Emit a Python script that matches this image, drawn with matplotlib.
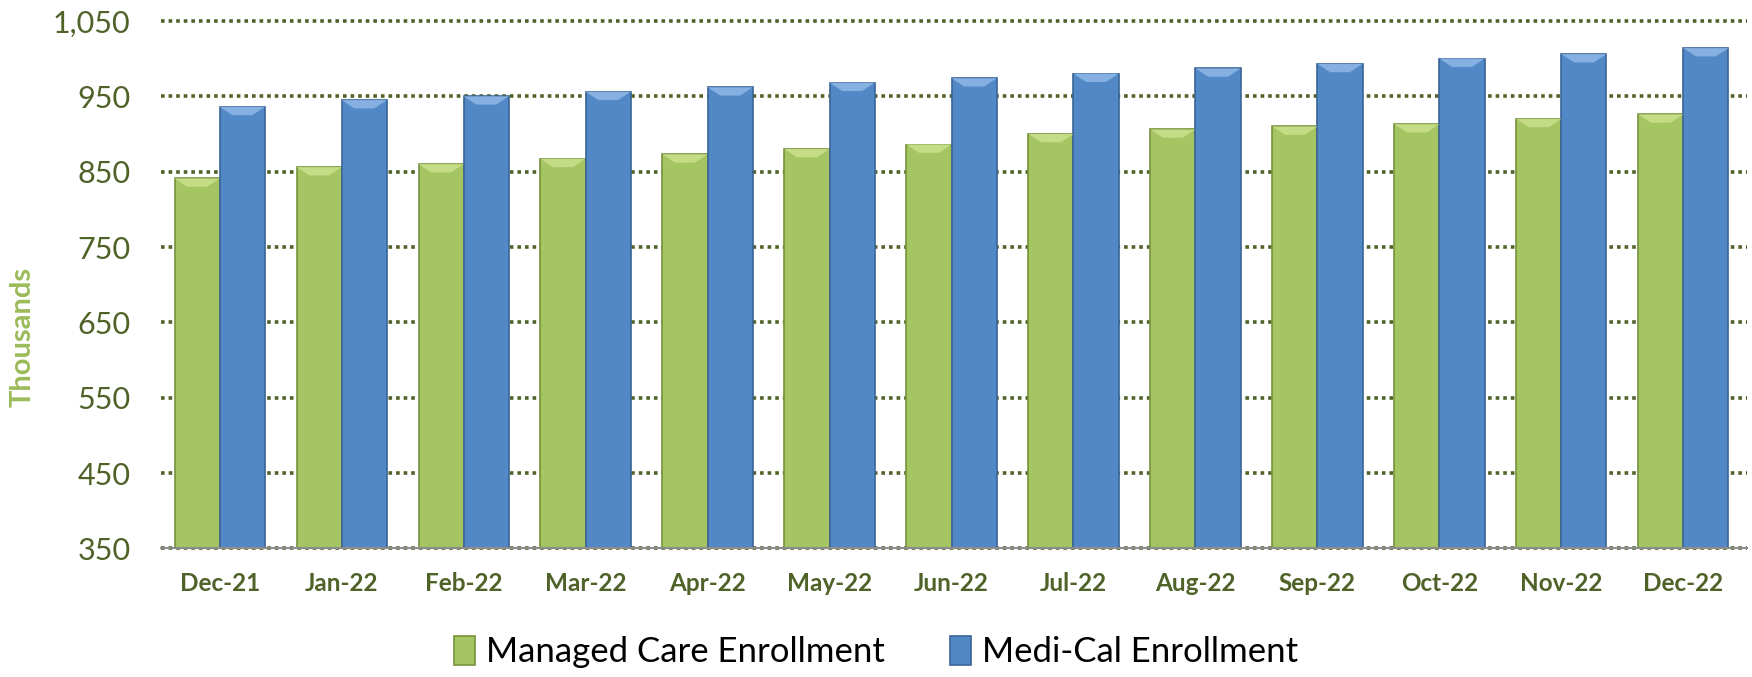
import numpy as np
import matplotlib.pyplot as plt
from matplotlib.patches import Polygon

months = ["Dec-21", "Jan-22", "Feb-22", "Mar-22", "Apr-22", "May-22", "Jun-22",
          "Jul-22", "Aug-22", "Sep-22", "Oct-22", "Nov-22", "Dec-22"]
managed_care = [841, 856, 860, 867, 873, 880, 886, 900, 906, 910, 913, 920, 926]
medi_cal = [936, 945, 950, 956, 962, 968, 974, 980, 987, 993, 1000, 1006, 1014]
yticks = [350, 450, 550, 650, 750, 850, 950, 1050]

text_col = "#4F6228"
green = "#9BBB59"
blue = "#4F81BD"

plt.rcParams['font.family'] = ['Lato', 'DejaVu Sans']

fig = plt.figure(figsize=(17.52, 6.77), dpi=100)
ax = fig.add_axes([0.092, 0.19, 0.905, 0.779])

x = np.arange(len(months))
w = 0.37
b1 = ax.bar(x - w / 2, managed_care, w, bottom=0, color="#A5C462",
            edgecolor="#76923C", linewidth=1.2, zorder=3, label="Managed Care Enrollment")
b2 = ax.bar(x + w / 2, medi_cal, w, bottom=0, color="#5388C6",
            edgecolor="#3A6496", linewidth=1.2, zorder=3, label="Medi-Cal Enrollment")

# light bevel on the top of each bar
for bars, hi in ((b1, "#C5DC86"), (b2, "#86B0E2")):
    for r in bars:
        x0, x1 = r.get_x(), r.get_x() + r.get_width()
        top = r.get_height()
        inset = r.get_width() * 0.28
        poly = Polygon([(x0, top), (x1, top), (x1 - inset, top - 11), (x0 + inset, top - 11)],
                       closed=True, facecolor=hi, edgecolor="none", zorder=4)
        ax.add_patch(poly)

ax.set_ylim(350, 1050)
ax.set_xlim(-0.48, 12.52)
ax.set_yticks(yticks)
ax.set_yticklabels([f"{v:,}" for v in yticks], fontsize=22, color=text_col)
ax.set_xticks(x)
ax.set_xticklabels(months, fontsize=17.5, fontweight="bold", color=text_col)
ax.tick_params(axis="both", length=0)
ax.tick_params(axis="x", pad=17)
ax.tick_params(axis="y", pad=22)

ax.grid(axis="y", color=text_col, linestyle=(0, (1, 1.1)), linewidth=2.6, zorder=1)
for gl in ax.get_ygridlines():
    gl.set_clip_on(False)
for s in ["top", "right", "left"]:
    ax.spines[s].set_visible(False)
ax.spines["bottom"].set_color("#8C8C8C")
ax.spines["bottom"].set_linewidth(1.5)
ax.spines["bottom"].set_zorder(5)

ax.set_ylabel("Thousands", fontsize=21, fontweight="bold", color=green)
ax.yaxis.set_label_coords(-0.079, 0.40)

leg = fig.legend(handles=[b1, b2], loc="center", bbox_to_anchor=(0.5, 0.037), ncol=2,
                 frameon=False, fontsize=25, handlelength=0.6, handleheight=0.9,
                 handletextpad=0.3, columnspacing=1.9)

fig.savefig("out.png", dpi=100)
